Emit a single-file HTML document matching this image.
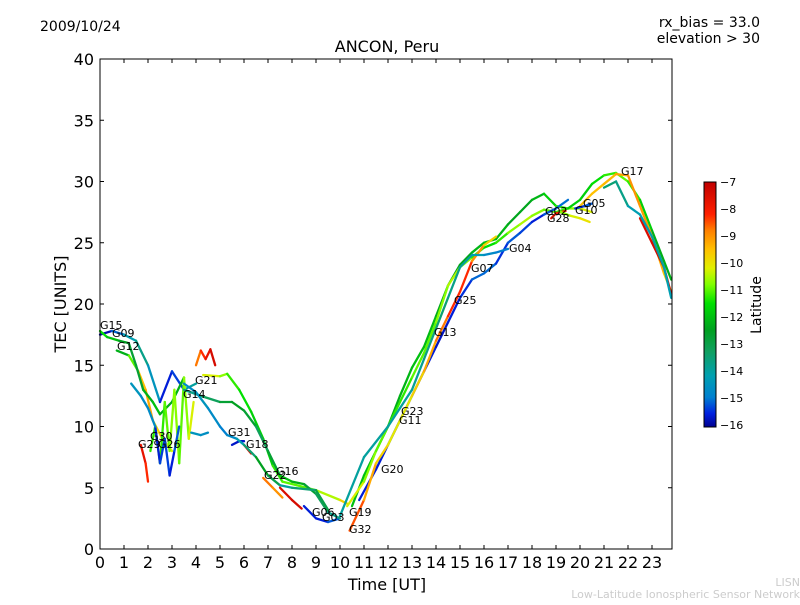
<!DOCTYPE html>
<html><head><meta charset="utf-8"><style>
body{margin:0;background:#fff;font-family:"Liberation Sans","DejaVu Sans",sans-serif}
svg text{font-family:"DejaVu Sans","Liberation Sans",sans-serif}
</style></head><body>
<svg id="c" width="800" height="600" xmlns="http://www.w3.org/2000/svg">
<defs><linearGradient id="jet" x1="0" y1="1" x2="0" y2="0"></linearGradient></defs>
<text x="40" y="31" font-size="14">2009/10/24</text>
<text x="760" y="27" font-size="14" text-anchor="end">rx_bias = 33.0</text>
<text x="760" y="43" font-size="14" text-anchor="end">elevation &gt; 30</text>
<text x="387" y="52" font-size="16" text-anchor="middle">ANCON, Peru</text>
<g id="plot"></g>
<rect x="100" y="59" width="572" height="490" fill="none" stroke="#000"/>
<g id="axes"></g>
<text x="387" y="590" font-size="16" text-anchor="middle">Time [UT]</text>
<text transform="translate(66,304) rotate(-90)" font-size="16" text-anchor="middle">TEC [UNITS]</text>
<rect x="704" y="182" width="12" height="245" fill="url(#jet)" stroke="#000"/>
<g id="cbar"></g>
<text transform="translate(761,305) rotate(-90)" font-size="14" text-anchor="middle">Latitude</text>
<text x="800" y="586" font-size="11" fill="#ccc" text-anchor="end">LISN</text>
<text x="800" y="598" font-size="11" fill="#ccc" text-anchor="end">Low-Latitude Ionospheric Sensor Network</text>
</svg>
<script>
const xTicks=[0,1,2,3,4,5,6,7,8,9,10,11,12,13,14,15,16,17,18,19,20,21,22,23];
const yTicks=[0,5,10,15,20,25,30,35,40];
const cbTicks=[-7,-8,-9,-10,-11,-12,-13,-14,-15,-16];
const tracks=[
{t:[0.7,1.2,1.6,1.9,2.2,2.6,3.0],v:[16.2,15.8,14.5,13,10.5,9,8],l:[-12.5,-12,-10,-9,-9.5,-10,-10.5]},
{t:[0,0.5,1,1.5,2,2.5,3,3.5,4],v:[17.5,17.8,17.5,17,15,12,14.5,13,13.5],l:[-16,-15.8,-14.5,-14,-13.5,-15.5,-15.8,-15,-13]},
{t:[0,0.3,0.8,1.2,1.5,1.8,2.2,2.5,3,3.5],v:[17.8,17.3,17,16.8,15,13,12,11,12,14],l:[-11.5,-11.5,-12.5,-12.5,-13,-12.5,-12,-12,-12.5,-12]},
{t:[2.1,2.3,2.5,2.7,2.9,3.1,3.3,3.5,3.7,3.9],v:[8,10,7,12,8,13,7,14,9,12],l:[-11,-11.5,-10.5,-12,-10,-11.5,-10,-12,-9.5,-11]},
{t:[2.3,2.5,2.7,2.9,3.1,3.3],v:[10,7,9,6,8,10],l:[-15.5,-15.8,-15,-15.8,-15.5,-15]},
{t:[1.7,1.9,2.0],v:[8.5,7,5.5],l:[-7.5,-8,-8.5]},
{t:[1.3,1.7,2.0,2.3],v:[13.5,12.5,11.5,10],l:[-14.5,-14.5,-15,-14.5]},
{t:[4,4.2,4.4,4.6,4.8],v:[15,16.2,15.5,16.3,15],l:[-9,-8.5,-8,-7.5,-7.3]},
{t:[3.8,4.2,4.5],v:[9.5,9.3,9.5],l:[-14.5,-14.5,-14.8]},
{t:[5.5,5.8,6],v:[8.5,8.8,8.8],l:[-15.5,-16,-15.5]},
{t:[6,6.3],v:[8.5,7.8],l:[-7.5,-7.5]},
{t:[6.8,7.2,7.6],v:[5.8,5,4.2],l:[-8.5,-9,-9]},
{t:[7.5,8,8.4],v:[5,4,3.3],l:[-7.5,-7.5,-7.3]},
{t:[8.5,9,9.5,10],v:[3.5,2.5,2.2,2.5],l:[-15.5,-15.8,-15.5,-15]},
{t:[4.3,5,5.3,5.8,6.3,6.8,7.2,7.6,8.2,9,10,10.3],v:[14.2,14.1,14.3,13,11.2,9,6.8,5.5,5.2,4.8,4.0,3.7],l:[-10,-10.5,-11,-11.5,-11.5,-12,-11.5,-11,-11,-11,-10,-9.5]},
{t:[3.5,4.2,5,5.5,6,6.5,7,7.5,8,8.5,9,9.5,10],v:[13,12.5,12,12,11.3,10,8,6,5.5,5.3,4.5,3.0,2.5],l:[-14,-13.5,-13,-12.5,-12.5,-13,-13.5,-12,-12,-12.5,-13,-13.5,-14]},
{t:[3.5,4,4.5,5,5.3,5.7,6,6.5,7,7.5,8,9,9.5],v:[13.5,12.8,11.5,10,9.3,9,8.5,7.5,6,5.2,5,4.8,3.2],l:[-15,-14.5,-14.5,-15,-15,-14.5,-14,-13,-12,-14,-14,-13,-13]},
{t:[10.5,11,11.5,12,12.5,13,13.5,14,14.5,15,15.5,16,16.5,17,17.5,18,18.5,19,19.5,20,20.5],v:[3.5,6,8,10,12.5,14.8,16.5,19,21.5,23.2,24.2,25,25.3,26.5,27.5,28.5,29,28,27.8,27.8,27.5],l:[-12,-12,-12,-12.3,-12.3,-12,-12,-12.2,-12.5,-12.5,-12.3,-12,-12,-12.3,-12.5,-12.3,-12,-11.5,-11,-10.5,-10]},
{t:[10.3,11,11.5,12,12.5,13,13.5,14,14.5,15,15.5,16,16.5,17,17.5,18,18.5,19,19.5,20,20.5,21,21.5,22,22.5,23,23.5,23.8],v:[3.5,5.5,8,10,12,14,16,18.5,21.5,23,23.8,24.6,25,25.8,26.5,27.2,27.7,27.5,27.8,28.5,29.8,30.5,30.7,30,28.5,26,23.5,22],l:[-10,-10.5,-11,-11,-11.5,-11,-11,-11,-10.5,-10.5,-11,-11.5,-11.5,-11,-10.5,-10.5,-11,-11,-11.5,-12,-11.5,-11.5,-11,-11,-11.5,-12,-12.5,-12]},
{t:[10.8,11.5,12,12.5,13,13.5,14,14.5,15,15.5,16,16.5,17,17.5,18,18.5,19,19.5],v:[4,6.5,8.5,10.5,12.5,14.5,16.5,18.5,20.5,22,22.5,23.3,25,25.8,26.7,27.3,27.8,28.5],l:[-15.5,-15.8,-15.5,-15.8,-15.5,-15.5,-15.8,-15.8,-15.5,-15.5,-14.8,-15.5,-15.5,-15,-15.8,-15.5,-15,-15.2]},
{t:[10.4,11,11.5,12,12.5,13,13.5,14,14.5,15,15.5,16,16.5],v:[1.5,4,7,8.5,10.5,12.5,14.5,17,19,21,23.5,24.8,25.5],l:[-8,-9,-9.5,-10,-10.2,-10,-9.5,-9,-8.5,-8,-8.5,-9.5,-10]},
{t:[10,11,12,13,13.5,14,14.5,15,15.5,16,16.5,17],v:[2.7,7.5,10,13,15.5,18,20.5,23,24,24,24.2,24.5],l:[-14,-14,-14,-14,-13.8,-13.5,-13.5,-14,-14,-14.5,-15,-15]},
{t:[20,20.5,21,21.5,22,22.5,23,23.5,23.8],v:[28,29,29.8,30.6,30.5,28,25.5,22.5,21],l:[-9.5,-9.5,-9.5,-9.3,-9,-9,-9.2,-9.5,-10]},
{t:[22.5,23,23.5,23.8],v:[27,25,23,20.8],l:[-7.5,-7.5,-7.3,-7.3]},
{t:[21,21.5,22,22.5,23,23.5,23.8],v:[29.5,30,28,27.3,25.5,23,20.5],l:[-13.5,-13.5,-14,-14.5,-14,-14,-14.5]},
{t:[19.8,20.2,20.5],v:[27.8,28,28.2],l:[-15.5,-15.5,-15]},
{t:[18.8,19,19.4],v:[27,27.4,27.6],l:[-7.5,-8,-8]},
{t:[19.2,19.6,20,20.4],v:[27.5,27.2,27,26.7],l:[-11,-10.5,-10,-10]}
];
const labels=[["G15",100,329],["G09",112,337],["G12",117,350],["G29",138,448],["G30",150,440],["G26",158,448],["G21",195,384],["G14",183,398],["G31",228,436],["G18",246,448],["G22",264,479],["G16",276,475],["G06",312,516],["G03",322,521],["G19",349,516],["G32",349,533],["G20",381,473],["G23",401,415],["G11",399,424],["G13",434,336],["G25",454,304],["G07",471,272],["G04",509,252],["G02",545,215],["G28",547,222],["G10",575,214],["G05",583,207],["G17",621,175]];
const X=t=>100+t*24, Y=v=>549-v*12.25;
const NS="http://www.w3.org/2000/svg";
const cmap=[[-16.1,[0,0,143]],[-15.6,[0,32,224]],[-15,[0,128,208]],[-14.2,[0,160,176]],[-13.3,[16,160,96]],[-12.5,[0,160,32]],[-11.5,[0,224,0]],[-10.8,[128,255,0]],[-10.2,[224,240,0]],[-9.5,[255,192,0]],[-8.8,[255,128,0]],[-8.2,[255,32,0]],[-7,[192,0,0]]];
function jet(lat){lat=Math.max(-16.1,Math.min(-7,lat));for(let i=0;i<cmap.length-1;i++){const[a,ca]=cmap[i],[b,cb2]=cmap[i+1];if(lat<=b){const f=(lat-a)/(b-a);const c=ca.map((x,j)=>Math.round(x+(cb2[j]-x)*f));return `rgb(${c})`;}}return 'rgb(192,0,0)';}
const grad=document.getElementById('jet');
cmap.forEach(([v,c])=>{const s=document.createElementNS(NS,'stop');s.setAttribute('offset',((v+16.1)/9.1).toFixed(3));s.setAttribute('stop-color',`rgb(${c})`);grad.appendChild(s);});
const plot=document.getElementById('plot'),axes=document.getElementById('axes'),cb=document.getElementById('cbar');
tracks.forEach((tr,k)=>{for(let i=0;i<tr.t.length-1;i++){const s=document.createElementNS(NS,'line');
s.setAttribute('x1',X(tr.t[i]));s.setAttribute('y1',Y(tr.v[i]));s.setAttribute('x2',X(tr.t[i+1]));s.setAttribute('y2',Y(tr.v[i+1]));
s.setAttribute('stroke',jet((tr.l[i]+tr.l[i+1])/2));s.setAttribute('stroke-width','2.3');s.setAttribute('stroke-linecap','round');


plot.appendChild(s);}});
labels.forEach(([n,x,y])=>{const e=document.createElementNS(NS,'text');e.setAttribute('x',x);e.setAttribute('y',y);e.setAttribute('font-size','11');e.textContent=n;


plot.appendChild(e);});
xTicks.forEach(t=>{const x=X(t);[[549,545],[59,63]].forEach(([a,b])=>{const l=document.createElementNS(NS,'line');l.setAttribute('x1',x);l.setAttribute('x2',x);l.setAttribute('y1',a);l.setAttribute('y2',b);l.setAttribute('stroke','#000');


axes.appendChild(l);});
const e=document.createElementNS(NS,'text');e.setAttribute('x',x);e.setAttribute('y',568);e.setAttribute('font-size','16');e.setAttribute('text-anchor','middle');e.textContent=t;


axes.appendChild(e);});
yTicks.forEach(v=>{const y=Y(v);[[100,104],[672,668]].forEach(([a,b])=>{const l=document.createElementNS(NS,'line');l.setAttribute('x1',a);l.setAttribute('x2',b);l.setAttribute('y1',y);l.setAttribute('y2',y);l.setAttribute('stroke','#000');


axes.appendChild(l);});
const e=document.createElementNS(NS,'text');e.setAttribute('x',94);e.setAttribute('y',y+6);e.setAttribute('font-size','16');e.setAttribute('text-anchor','end');e.textContent=v;


axes.appendChild(e);});
cbTicks.forEach(v=>{const y=182+(-7-v)*27;const e=document.createElementNS(NS,'text');e.setAttribute('x',720);e.setAttribute('y',y+4);e.setAttribute('font-size','11');e.textContent='\u2212'+Math.abs(v);


cb.appendChild(e);});
</script>
</body></html>
